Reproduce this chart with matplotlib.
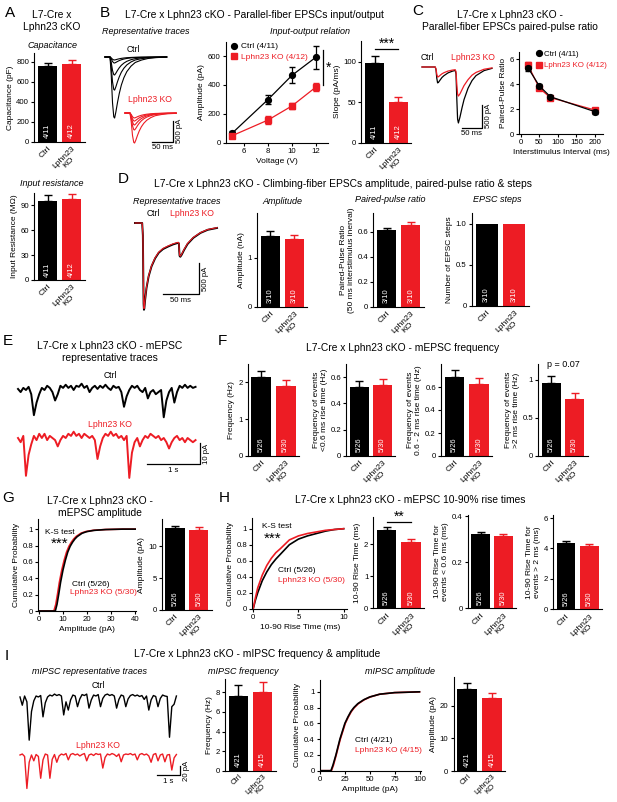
import numpy as np
import matplotlib.pyplot as plt
from matplotlib.lines import Line2D
from matplotlib.ticker import FuncFormatter

plt.rcParams['font.family'] = ['Liberation Sans', 'DejaVu Sans']
plt.rcParams['font.size'] = 5.5
plt.rcParams['axes.linewidth'] = 0.8
plt.rcParams['xtick.major.width'] = 0.8
plt.rcParams['ytick.major.width'] = 0.8
plt.rcParams['xtick.major.size'] = 2.2
plt.rcParams['ytick.major.size'] = 2.2
plt.rcParams['xtick.major.pad'] = 1.5
plt.rcParams['ytick.major.pad'] = 1.5
plt.rcParams['xtick.labelsize'] = 5.6
plt.rcParams['ytick.labelsize'] = 5.6
plt.rcParams['axes.labelsize'] = 6.0
plt.rcParams['axes.labelpad'] = 2

RED = '#ED1C24'
BLK = 'black'
W, H = 617, 802

#-----------------
# data
#-----------------
groups = ['Ctrl', 'Lphn23\nKO']

# A
cap_mean = [762, 782]
cap_sem = [25, 38]
rin_mean = [95.5, 98]
rin_sem = [7, 6]
n_A = ['4/11', '4/12']

# B
io_volt = [5, 8, 10, 12]
io_ctrl = [65, 299, 467, 593]
io_ctrl_sem = [15, 30, 55, 80]
io_ko = [48, 157, 255, 386]
io_ko_sem = [10, 28, 23, 30]
slope_mean = [98, 50.5]
slope_sem = [9, 6]
# normalised PF-EPSC waveform (time from onset in ms)
epsc_t = [-12, 0, 3, 6, 9, 11, 14, 18, 22, 27, 33, 40, 50, 60, 75, 90, 110, 135]
epsc_v = [0, 0, -0.3, -0.75, -0.98, -1.0, -0.9, -0.74, -0.6, -0.46, -0.34, -0.24,
          -0.15, -0.09, -0.05, -0.025, -0.01, 0]
io_amp_ctrl = [72, 145, 435, 800, 1475]
io_amp_ko = [120, 195, 290, 410, 725]
ko_trace_end = 110   # KO traces were cut shorter

# C
ppr_isi = [20, 50, 80, 200]
ppr_ctrl = [5.28, 3.86, 3.0, 1.81]
ppr_ctrl_sem = [0.2, 0.15, 0.12, 0.15]
ppr_ko = [5.5, 3.68, 2.93, 1.94]
ppr_ko_sem = [0.3, 0.15, 0.15, 0.15]
pp_t = [-35, -2, 0, 2, 4, 6, 10, 15, 20, 30, 40, 48, 50, 52, 54, 56, 60, 65, 70, 80, 90,
        100, 120, 140]
pp_ctrl = [0, 0, -60, -250, -350, -340, -290, -230, -190, -130, -95, -75, -150, -700,
           -1150, -1233, -1100, -900, -720, -470, -300, -190, -80, -30]
pp_ko = [0, 0, -40, -160, -220, -215, -185, -150, -125, -90, -70, -60, -100, -380, -600,
         -640, -590, -500, -410, -280, -180, -120, -50, -20]

# D
cf_amp = [1.44, 1.375]
cf_amp_sem = [0.11, 0.075]
cf_ppr = [0.614, 0.654]
cf_ppr_sem = [0.021, 0.024]
cf_steps = [1.0, 1.0]
cf_steps_sem = [0, 0]
n_D = ['3/10', '3/10']
cf_t = [-11, -1, 0, 0.5, 1, 1.5, 2, 3, 5, 8, 12, 17, 22, 28, 35, 42, 49, 50, 50.5, 51,
        52, 54, 57, 62, 70, 80, 90, 103]
cf_ctrl = [0, 0, -200, -800, -1300, -1400, -1380, -1250, -1050, -860, -700, -570, -480,
           -420, -380, -345, -320, -330, -450, -530, -545, -510, -440, -340, -240, -160,
           -110, -80]
cf_ko = [0, 0, -190, -780, -1270, -1380, -1360, -1235, -1035, -850, -690, -560, -470,
         -410, -370, -335, -312, -322, -440, -520, -535, -500, -430, -330, -232, -155,
         -105, -75]

# E  (sampled every 50 ms, pA)
e_dt = 0.05
e_ctrl = [0.5, -1, 1, 0, 1.5, -2, -12, -6, -2, 1, 0, 2, 1, -1, -5, -2, 2, 1, 2.5, 1, 2, 0,
          2, 1.5, 3, 1, 2, -1, 1, 2, 0.5, 2, 1, 2.5, 1, 0, 2, 1, 1.5, -1, -8, -3, 0, 2, 1,
          2, 0, -1, 1, -4, -1, 0, -2, -1, 0, -13, -5, -1, 1, -6, -1, 2, 1, 2.5, 1, 2, 1, 1.5]
e_ko = [0, -2, 1, -18, -8, -3, 1, -1, 2, 0, 2, -1, 1, 0, -1, -4, -1, 1, 0, 2, 1, 3, 1, 2,
        0, 2, 1, 0, 1, -1, -10, -4, 0, 2, 1, 3, 1, 2, 0, 1, -1, 1, -19, -7, -2, 0, -4, -1,
        1, 0, 2, 1, 0, 1, -1, 0, -2, -5, -2, 0, 1, -1, 0, -2, 0, -1, -2, -1]

# F
freq_all = [2.16, 1.91]
freq_all_sem = [0.16, 0.15]
freq_fast = [0.528, 0.54]
freq_fast_sem = [0.04, 0.045]
freq_mid = [0.687, 0.629]
freq_mid_sem = [0.058, 0.05]
freq_slow = [0.964, 0.746]
freq_slow_sem = [0.09, 0.087]
n_EPSC = ['5/26', '5/30']

# G
g_x_ctrl = [0, 6.8, 7.5, 8.2, 9, 10, 11, 12, 13, 14, 15, 16, 18, 20, 23, 28, 35, 41]
g_x_ko = [0, 6.2, 7.0, 7.7, 8.5, 9.5, 10.5, 11.5, 12.5, 13.5, 14.5, 15.5, 17.5, 19.5,
          22.5, 27.5, 35, 41]
g_cdf = [0, 0, 0.08, 0.2, 0.35, 0.5, 0.62, 0.72, 0.79, 0.84, 0.88, 0.91, 0.95, 0.97,
         0.985, 0.995, 1, 1]
amp_mean = [12.77, 12.5]
amp_sem = [0.4, 0.5]

# H
h_x = [0, 0.25, 0.5, 1, 1.5, 2, 2.5, 3, 4, 5, 6, 7, 8, 9, 10]
h_cdf_ctrl = [0, 0.11, 0.2, 0.35, 0.46, 0.55, 0.62, 0.68, 0.8, 0.87, 0.91, 0.94, 0.97,
              0.99, 1.0]
h_cdf_ko = [0, 0.14, 0.26, 0.42, 0.54, 0.63, 0.7, 0.75, 0.86, 0.91, 0.94, 0.96, 0.98,
            0.99, 1.0]
rise_all = [2.43, 2.05]
rise_all_sem = [0.1, 0.12]
rise_fast = [0.323, 0.314]
rise_fast_sem = [0.007, 0.007]
rise_slow = [4.38, 4.18]
rise_slow_sem = [0.11, 0.11]

# I  (sampled every 100 ms, pA)
i_dt = 0.1
i_ctrl = [0, -17, 2, -10, -89, -30, -8, 2, 0, 3, -41, -12, 0, 4, 2, 6, 3, 5, 2, -37, -10,
          -27, -6, 4, 2, -20, -4, 5, 3, 6, -23, -6, 4, 2, 5, -20, -3, 4, 6, 3, 5, 2, -23,
          -5, 4, 2, -20, -4, 3, 5, 2, 4, 1, 3, -5, 2, -27, -6, 3, 1, -20, -3, 4, 2, 1, -83,
          -20, -15, 2]
i_ko = [0, 2, -3, -69, -15, 0, -12, 1, -3, -48, -10, 2, 0, -48, -9, 1, -15, -2, 2, 0, 3,
        -10, 1, 3, 0, 2, -2, 1, 3, -12, 0, 2, -1, 3, 1, 2, -27, -5, 2, 0, 3, 1, -3, 2, -14,
        0, 2, 1, 3, 0, 2, -10, 1, 3, 0, 2, -2, -15, 1, 3, -12, 0, 2, -14, 0, 1, -31, -6, 1]
i_x_ctrl = [0, 11, 13, 16, 18, 20, 22.5, 25, 28, 31, 34, 38, 44, 50, 60, 75, 100]
i_x_ko = [0, 11.5, 13.5, 16.3, 18.3, 20.4, 22.9, 25.4, 28.4, 31.5, 34.5, 38.5, 44.5, 50.5,
          60, 75, 100]
i_cdf = [0, 0, 0.07, 0.2, 0.3, 0.4, 0.5, 0.6, 0.68, 0.75, 0.8, 0.85, 0.9, 0.935, 0.97,
         0.99, 1.0]
ipsc_freq = [7.62, 8.03]
ipsc_freq_sem = [1.12, 1.05]
ipsc_amp = [25.2, 22.5]
ipsc_amp_sem = [2.0, 1.5]
n_I = ['4/21', '4/15']

#-----------------
# helpers
#-----------------
fig = plt.figure(figsize=(W / 100, H / 100), dpi=100)


def px_axes(l, t, r, b):
    return fig.add_axes([l / W, 1 - b / H, (r - l) / W, (b - t) / H])


def ftext(x, y, s, **kw):
    kw.setdefault('ha', 'center')
    kw.setdefault('va', 'center')
    fig.text(x / W, 1 - y / H, s, **kw)


def gfmt(v, pos):
    return '%g' % v


def clean(ax):
    ax.spines['top'].set_visible(False)
    ax.spines['right'].set_visible(False)
    ax.yaxis.set_major_formatter(FuncFormatter(gfmt))
    ax.xaxis.set_major_formatter(FuncFormatter(gfmt))


def bar_axes(bc, rc, top, bottom, means, sems, counts, ylim, yticks, ylabel,
             tick_fs=6.1, tick_pad=2.5):
    s = rc - bc
    ax = px_axes(bc - 0.55 * s, top, rc + 0.55 * s, bottom)
    clean(ax)
    cols = [BLK, RED]
    ax.bar([0, 1], means, width=0.8, color=cols, zorder=2)
    for i in range(2):
        if sems[i] > 0:
            ax.errorbar(i, means[i], yerr=[[0], [sems[i]]], color=cols[i], capsize=3.2,
                        elinewidth=1, capthick=1, zorder=1)
        ax.text(i, 0.04, counts[i], color='white', rotation=90, ha='center', va='bottom',
                fontsize=5.4, transform=ax.get_xaxis_transform(), zorder=3)
    ax.set_xlim(-0.55, 1.55)
    ax.set_ylim(*ylim)
    ax.set_yticks(yticks)
    ax.set_xticks([0, 1])
    ax.set_xticklabels(groups, rotation=45, ha='right', rotation_mode='anchor',
                       multialignment='center', fontsize=tick_fs, linespacing=0.95)
    ax.tick_params(axis='x', length=0, pad=tick_pad)
    ax.set_ylabel(ylabel)
    return ax


def trace_axes(box, xlim, ylim):
    ax = px_axes(*box)
    ax.set_xlim(*xlim)
    ax.set_ylim(*ylim)
    ax.axis('off')
    return ax


def scale_bar(ax, x0, y0, dx, dy, xlab, ylab):
    ax.plot([x0 - dx, x0, x0], [y0, y0, y0 + dy], color='black', lw=0.9, clip_on=False)
    ax.annotate(xlab, (x0 - dx / 2, y0), xytext=(0, -2), textcoords='offset points',
                ha='center', va='top', fontsize=5.6)
    ax.annotate(ylab, (x0, y0 + dy / 2), xytext=(2.5, 0), textcoords='offset points',
                rotation=90, ha='left', va='center', fontsize=5.6)


TITLE = 7.4
SUB = 6.5
LET = 11
LEG = 6.0

#-----------------
# A
#-----------------
ftext(10, 13, 'A', fontsize=LET)
ftext(52, 21, 'L7-Cre x\nLphn23 cKO', fontsize=7.4, linespacing=1.25)
ftext(52, 45, 'Capacitance', fontsize=SUB, style='italic')
bar_axes(47.5, 71.5, 53, 142, cap_mean, cap_sem, n_A, (0, 890), [0, 200, 400, 600, 800],
         'Capacitance (pF)')
ftext(52, 183, 'Input resistance', fontsize=SUB, style='italic')
bar_axes(47.5, 71.5, 193, 280, rin_mean, rin_sem, n_A, (0, 105), [0, 30, 60, 90],
         'Input Resistance (M\u03a9)')

#-----------------
# B
#-----------------
ftext(105, 13, 'B', fontsize=LET)
ftext(254, 15, 'L7-Cre x Lphn23 cKO - Parallel-fiber EPSCs input/output', fontsize=TITLE)
ftext(146, 32, 'Representative traces', fontsize=SUB, style='italic')
ftext(310, 32, 'Input-output relation', fontsize=SUB, style='italic')
ftext(133, 49, 'Ctrl', fontsize=6.2)
ftext(150, 100, 'Lphn23 KO', fontsize=6.2, color=RED)

axt = trace_axes((100, 50, 200, 160), (-23.8, 214.3), (-2488, 169))
ko_dt, ko_dy = 47.6, -1353
et = np.array(epsc_t)
ev = np.array(epsc_v)
keep = et <= ko_trace_end
for a in io_amp_ctrl:
    axt.plot(et, ev * a, color=BLK, lw=0.8)
for a in io_amp_ko:
    axt.plot(et[keep] + ko_dt, ev[keep] * a + ko_dy, color=RED, lw=0.8)
scale_bar(axt, 149.3, -2046, 50, 500, '50 ms', '500 pA')

ax = px_axes(226, 41.7, 328, 142.7)
clean(ax)
ax.errorbar(io_volt, io_ctrl, yerr=io_ctrl_sem, color=BLK, marker='o', ms=4.2, lw=0.9,
            capsize=2.5, elinewidth=0.9, zorder=3)
ax.errorbar(io_volt, io_ko, yerr=io_ko_sem, color=RED, marker='s', ms=4, lw=0.9,
            capsize=2.5, elinewidth=0.9, zorder=3)
ax.set_xlim(4.5, 13)
ax.set_ylim(0, 700)
ax.set_xticks([6, 8, 10, 12])
ax.set_yticks([0, 200, 400, 600])
ax.set_xlabel('Voltage (V)')
ax.set_ylabel('Amplitude (pA)')
ax.plot([12.62, 12.62], [400, 640], color=BLK, lw=0.9, clip_on=False)
ax.text(12.85, 520, '*', fontsize=10, ha='left', va='center')
hnd = [Line2D([], [], color=BLK, marker='o', ls='none', ms=4.2),
       Line2D([], [], color=RED, marker='s', ls='none', ms=4)]
leg = ax.legend(hnd, ['Ctrl (4/11)', 'Lphn23 KO (4/12)'], loc='upper left',
                bbox_to_anchor=(0.0, 1.04), frameon=False, fontsize=LEG, handlelength=0.8,
                handletextpad=0.4, labelspacing=0.35, borderaxespad=0.2)
leg.get_texts()[1].set_color(RED)

ax = bar_axes(374.5, 398.3, 40.7, 142.7, slope_mean, slope_sem, n_A, (0, 126),
              [0, 50, 100], 'Slope (pA/ms)')
ax.plot([0, 1], [116, 116], color=BLK, lw=0.9, clip_on=False)
ax.text(0.5, 114, '***', ha='center', va='bottom', fontsize=10)

#-----------------
# C
#-----------------
ftext(418, 11, 'C', fontsize=LET)
ftext(510, 21, 'L7-Cre x Lphn23 cKO -\nParallel-fiber EPSCs paired-pulse ratio',
      fontsize=TITLE, linespacing=1.3)
ftext(427, 57, 'Ctrl', fontsize=6.2)
ftext(473, 57, 'Lphn23 KO', fontsize=6.2, color=RED)
axt = trace_axes((418, 60, 500, 140), (-45, 160), (-1608, 154))
axt.plot(pp_t, pp_ctrl, color=BLK, lw=0.9)
axt.plot(pp_t, pp_ko, color=RED, lw=0.9)
scale_bar(axt, 114, -1337, 50, 500, '50 ms', '500 pA')

ax = px_axes(519, 51.7, 603, 134.3)
clean(ax)
ax.errorbar(ppr_isi, ppr_ko, yerr=ppr_ko_sem, color=RED, marker='s', ms=4, lw=0.9,
            capsize=2.5, elinewidth=0.9, zorder=3)
ax.errorbar(ppr_isi, ppr_ctrl, yerr=ppr_ctrl_sem, color=BLK, marker='o', ms=4.2, lw=0.9,
            capsize=2.5, elinewidth=0.9, zorder=4)
ax.set_xlim(-5, 222)
ax.set_ylim(0, 6.6)
ax.set_xticks([0, 50, 100, 150, 200])
ax.set_yticks([0, 2, 4, 6])
ax.set_xlabel('Interstimulus Interval (ms)')
ax.set_ylabel('Paired-Pulse Ratio')
leg = ax.legend(hnd, ['Ctrl (4/11)', 'Lphn23 KO (4/12)'], loc='upper right',
                bbox_to_anchor=(1.1, 1.07), frameon=False, fontsize=5.7, handlelength=0.7,
                handletextpad=0.3, labelspacing=0.45, borderaxespad=0.2)
leg.get_texts()[1].set_color(RED)

#-----------------
# D
#-----------------
ftext(123, 179, 'D', fontsize=LET)
ftext(343, 184, 'L7-Cre x Lphn23 cKO - Climbing-fiber EPSCs amplitude, paired-pulse ratio & steps',
      fontsize=TITLE)
ftext(177, 201, 'Representative traces', fontsize=SUB, style='italic')
ftext(282, 201, 'Amplitude', fontsize=SUB, style='italic')
ftext(390, 200, 'Paired-pulse ratio', fontsize=SUB, style='italic')
ftext(497, 200, 'EPSC steps', fontsize=SUB, style='italic')
ftext(153, 214, 'Ctrl', fontsize=6.2)
ftext(192, 214, 'Lphn23 KO', fontsize=6.2, color=RED)
axt = trace_axes((130, 215, 222, 315), (-17.9, 109.9), (-1484, 129))
axt.plot(cf_t, cf_ctrl, color=BLK, lw=1.4)
axt.plot(cf_t, cf_ko, color=RED, lw=0.8)
scale_bar(axt, 77.9, -1145, 50, 500, '50 ms', '500 pA')

bar_axes(270.2, 294.2, 213.3, 306.7, cf_amp, cf_amp_sem, n_D, (0, 1.9), [0, 1],
         'Amplitude (nA)')
bar_axes(386.7, 410.8, 213.3, 306.7, cf_ppr, cf_ppr_sem, n_D, (0, 0.75),
         [0, 0.2, 0.4, 0.6], 'Paired-Pulse Ratio\n(50 ms interstimulus inerval)')
ax = bar_axes(486.7, 514, 213.3, 305.7, cf_steps, cf_steps_sem, n_D, (0, 1.13),
              [0, 0.5, 1.0], 'Number of EPSC steps')
ax.set_yticklabels(['0', '0.5', '1.0'])

#-----------------
# E
#-----------------
ftext(8, 341, 'E', fontsize=LET)
ftext(110, 352, 'L7-Cre x Lphn23 cKO - mEPSC\nrepresentative traces', fontsize=TITLE,
      linespacing=1.3)
ftext(110, 375, 'Ctrl', fontsize=6.2)
ftext(110, 424, 'Lphn23 KO', fontsize=6.2, color=RED)
axt = trace_axes((10, 380, 215, 485), (-0.151, 3.717), (-45.24, 4.76))
te = np.arange(len(e_ctrl)) * e_dt
axt.plot(te, e_ctrl, color=BLK, lw=1.4)
axt.plot(te, np.array(e_ko) - 22.86, color=RED, lw=1.4)
scale_bar(axt, 3.434, -35.24, 1, 10, '1 s', '10 pA')

#-----------------
# F
#-----------------
ftext(222, 341, 'F', fontsize=LET)
ftext(403, 348, 'L7-Cre x Lphn23 cKO - mEPSC frequency', fontsize=TITLE)
bar_axes(261.2, 285.7, 364, 456, freq_all, freq_all_sem, n_EPSC, (0, 2.5), [0, 1, 2],
         'Frequency (Hz)')
bar_axes(359.2, 382.5, 364, 456, freq_fast, freq_fast_sem, n_EPSC, (0, 0.7),
         [0, 0.2, 0.4, 0.6], 'Frequency of events\n<0.6 ms rise time (Hz)')
bar_axes(454.5, 478.9, 364, 456, freq_mid, freq_mid_sem, n_EPSC, (0, 0.8),
         [0, 0.2, 0.4, 0.6], 'Frequency of events\n0.6 - 2 ms rise time (Hz)')
ax = bar_axes(551.2, 574.7, 364, 456, freq_slow, freq_slow_sem, n_EPSC, (0, 1.21),
              [0, 0.5, 1], 'Frequency of events\n>2 ms rise time (Hz)')
ax.text(0.5, 1.2, 'p = 0.07', ha='center', va='center', fontsize=6.5)

#-----------------
# G
#-----------------
ftext(8, 498, 'G', fontsize=LET)
ftext(100, 507, 'L7-Cre x Lphn23 cKO -\nmEPSC amplitude', fontsize=TITLE, linespacing=1.3)
ax = px_axes(38.3, 519.3, 136, 611)
clean(ax)
ax.plot(g_x_ko, g_cdf, color=RED, lw=1.2)
ax.plot(g_x_ctrl, g_cdf, color=BLK, lw=1.2)
ax.set_xlim(-0.3, 40.5)
ax.set_ylim(0, 1.12)
ax.set_xticks([0, 10, 20, 30, 40])
ax.set_yticks([0, 0.2, 0.4, 0.6, 0.8, 1])
ax.set_xlabel('Amplitude (pA)')
ax.set_ylabel('Cumulative Probability')
ftext(45, 532, 'K-S test', fontsize=LEG, ha='left')
ftext(60, 544, '***', fontsize=11)
ftext(72, 584, 'Ctrl (5/26)', fontsize=LEG, ha='left')
ftext(70, 593, 'Lphn23 KO (5/30)', fontsize=LEG, ha='left', color=RED)
bar_axes(175, 198.8, 519.3, 610, amp_mean, amp_sem, n_EPSC, (0, 14.2), [0, 5, 10],
         'Amplitude (pA)')

#-----------------
# H
#-----------------
ftext(224, 498, 'H', fontsize=LET)
ftext(410, 500, 'L7-Cre x Lphn23 cKO - mEPSC 10-90% rise times', fontsize=TITLE)
ax = px_axes(252.3, 518.3, 347.3, 608.7)
clean(ax)
ax.plot(h_x, h_cdf_ctrl, color=BLK, lw=1.2)
ax.plot(h_x, h_cdf_ko, color=RED, lw=1.2)
ax.set_xlim(-0.1, 10.4)
ax.set_ylim(0, 1.13)
ax.set_xticks([0, 5, 10])
ax.set_yticks([0, 0.2, 0.4, 0.6, 0.8, 1])
ax.set_xlabel('10-90 Rise Time (ms)')
ax.set_ylabel('Cumulative Probability')
ftext(262, 526, 'K-S test', fontsize=LEG, ha='left')
ftext(273, 539, '***', fontsize=11)
ftext(278, 570, 'Ctrl (5/26)', fontsize=LEG, ha='left')
ftext(278, 580, 'Lphn23 KO (5/30)', fontsize=LEG, ha='left', color=RED)
ax = bar_axes(386.7, 410.9, 516.7, 608.3, rise_all, rise_all_sem, n_EPSC, (0, 2.85),
              [0, 1, 2], '10-90 Rise Time (ms)')
ax.plot([0, 1], [2.68, 2.68], color=BLK, lw=0.9, clip_on=False)
ax.text(0.5, 2.63, '**', ha='center', va='bottom', fontsize=10)
bar_axes(480.5, 503.4, 515, 608.3, rise_fast, rise_fast_sem, n_EPSC, (0, 0.405),
         [0, 0.2, 0.4], '10-90 Rise Time for\nevents < 0.6 ms (ms)')
bar_axes(565.9, 589.2, 515, 609.3, rise_slow, rise_slow_sem, n_EPSC, (0, 6.2),
         [0, 2, 4, 6], '10-90 Rise Time for\nevents > 2 ms (ms)')

#-----------------
# I
#-----------------
ftext(7, 656, 'I', fontsize=LET)
ftext(257, 654, 'L7-Cre x Lphn23 cKO - mIPSC frequency & amplitude', fontsize=TITLE)
ftext(90, 672, 'mIPSC representative traces', fontsize=SUB, style='italic')
ftext(243, 672, 'mIPSC frequency', fontsize=SUB, style='italic')
ftext(400, 672, 'mIPSC amplitude', fontsize=SUB, style='italic')
ftext(98, 686, 'Ctrl', fontsize=6.2)
ftext(98, 746, 'Lphn23 KO', fontsize=6.2, color=RED)
axt = trace_axes((15, 685, 200, 795), (-0.217, 7.826), (-202.1, 24.7))
ti = np.arange(len(i_ctrl)) * i_dt
axt.plot(ti, i_ctrl, color=BLK, lw=1.0)
axt.plot(ti, np.array(i_ko) - 119.6, color=RED, lw=1.0)
scale_bar(axt, 6.957, -161.7, 1, 20, '1 s', '20 pA')

bar_axes(238.3, 262.5, 679.3, 770.7, ipsc_freq, ipsc_freq_sem, n_I, (0, 9.33),
         [0, 2, 4, 6, 8], 'Frequency (Hz)', tick_fs=5.6, tick_pad=1.5)
ax = px_axes(320, 680, 420.5, 770.7)
clean(ax)
ax.plot(i_x_ko, i_cdf, color=RED, lw=1.2)
ax.plot(i_x_ctrl, i_cdf, color=BLK, lw=1.2)
ax.set_xlim(0, 101)
ax.set_ylim(0, 1.15)
ax.set_xticks([0, 25, 50, 75, 100])
ax.set_yticks([0, 0.2, 0.4, 0.6, 0.8, 1])
ax.set_xlabel('Amplitude (pA)')
ax.set_ylabel('Cumulative Probability')
ftext(355, 741, 'Ctrl (4/21)', fontsize=LEG, ha='left')
ftext(355, 751, 'Lphn23 KO (4/15)', fontsize=LEG, ha='left', color=RED)
bar_axes(467.2, 491.9, 676.7, 771, ipsc_amp, ipsc_amp_sem, n_I, (0, 29), [0, 10, 20],
         'Amplitude (pA)', tick_fs=5.6, tick_pad=1.5)

fig.savefig('out.png', dpi=100)
